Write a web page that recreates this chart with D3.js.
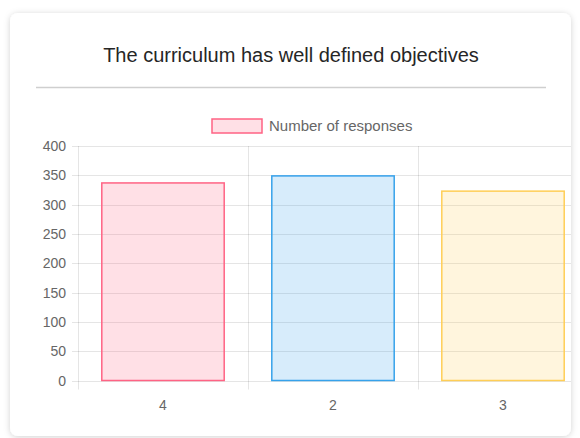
<!DOCTYPE html>
<html>
<head>
<meta charset="utf-8">
<title>Bar Chart</title>
<style>
  body { margin: 0; background: #fff; font-family: "Helvetica Neue", Helvetica, Arial, "Liberation Sans", sans-serif; }
</style>
</head>
<body>
<div id="chart-holder"></div>
<script src="https://d3js.org/d3.v7.min.js"></script>
<script>
var categories = ['4', '2', '3'];
var responses = [337, 349, 323];
var yTicks = [0, 50, 100, 150, 200, 250, 300, 350, 400];
var fills = ['rgba(255,99,132,0.2)', 'rgba(54,162,235,0.2)', 'rgba(255,206,86,0.2)'];
var strokes = ['rgba(255,99,132,1)', 'rgba(54,162,235,1)', 'rgba(255,206,86,1)'];
var titleText = 'The curriculum has well defined objectives';
var legendLabel = 'Number of responses';

var width = 580, height = 438;
var margin = {top: 146, right: -8, bottom: 57.5, left: 78};
var innerWidth = width - margin.left - margin.right;
var innerHeight = height - margin.top - margin.bottom;
var cardRight = 571;

var svg = d3.select('#chart-holder').append('svg')
    .attr('width', width)
    .attr('height', height);

// card with shadow
var defs = svg.append('defs');
var f = defs.append('filter').attr('id', 'shadow')
    .attr('x', '-10%').attr('y', '-10%').attr('width', '120%').attr('height', '120%');
f.append('feDropShadow').attr('dx', 0).attr('dy', 1).attr('stdDeviation', 3)
    .attr('flood-color', '#000').attr('flood-opacity', 0.18);

svg.append('rect')
    .attr('x', 10).attr('y', 13).attr('width', cardRight - 10).attr('height', 423).attr('rx', 8)
    .attr('fill', '#fff').attr('filter', 'url(#shadow)');

// title
svg.append('text')
    .attr('x', 291).attr('y', 62)
    .attr('text-anchor', 'middle')
    .attr('fill', '#262626')
    .style('font-size', '20px')
    .text(titleText);

svg.append('line')
    .attr('x1', 36).attr('x2', 546).attr('y1', 87.5).attr('y2', 87.5)
    .attr('stroke', '#cfcfcf').attr('stroke-width', 1.5);

var g = svg.append('g')
    .attr('transform', 'translate(' + margin.left + ',' + margin.top + ')');

var x = d3.scaleBand().domain(categories).range([0, innerWidth]);
var y = d3.scaleLinear().domain([0, 400]).range([innerHeight, 0]);

// the plot runs past the card's right edge, so grid lines stop there
var gridRight = cardRight - margin.left;

// horizontal grid
g.selectAll('.hgrid').data(yTicks).enter().append('line')
    .attr('class', 'hgrid')
    .attr('x1', -6).attr('x2', gridRight)
    .attr('y1', function(d) { return Math.round(y(d)) + 0.5; })
    .attr('y2', function(d) { return Math.round(y(d)) + 0.5; })
    .attr('stroke', 'rgba(0,0,0,0.1)');

// vertical grid lines at category boundaries
var bounds = categories.map(function(c) { return x(c); }).concat([innerWidth])
    .filter(function(d) { return d <= gridRight; });
g.selectAll('.vgrid').data(bounds).enter().append('line')
    .attr('class', 'vgrid')
    .attr('x1', function(d) { return Math.round(d) + 0.5; })
    .attr('x2', function(d) { return Math.round(d) + 0.5; })
    .attr('y1', 0).attr('y2', innerHeight + 9)
    .attr('stroke', 'rgba(0,0,0,0.1)');

// y labels
svg.selectAll('.ylabel').data(yTicks).enter().append('text')
    .attr('class', 'ylabel')
    .attr('x', margin.left - 12)
    .attr('y', function(d) { return margin.top + y(d) + 5; })
    .attr('text-anchor', 'end')
    .attr('fill', '#666')
    .style('font-size', '14px')
    .text(function(d) { return d; });

// x labels
g.selectAll('.xlabel').data(categories).enter().append('text')
    .attr('class', 'xlabel')
    .attr('x', function(d) { return x(d) + x.bandwidth() / 2; })
    .attr('y', innerHeight + 29)
    .attr('text-anchor', 'middle')
    .attr('fill', '#666')
    .style('font-size', '14px')
    .text(function(d) { return d; });

// bars
var barW = x.bandwidth() * 0.8 * 0.9;
g.selectAll('.bar').data(responses).enter().append('rect')
    .attr('class', 'bar')
    .attr('x', function(d, i) { return x(categories[i]) + (x.bandwidth() - barW) / 2; })
    .attr('y', function(d) { return y(d); })
    .attr('width', barW)
    .attr('height', function(d) { return innerHeight - y(d); })
    .attr('fill', function(d, i) { return fills[i]; })
    .attr('stroke', function(d, i) { return strokes[i]; })
    .attr('stroke-width', 1.5);

// legend
var legend = svg.append('g').attr('transform', 'translate(212,119)');
legend.append('rect')
    .attr('width', 50).attr('height', 14)
    .attr('fill', fills[0]).attr('stroke', strokes[0]).attr('stroke-width', 1.5);
legend.append('text')
    .attr('x', 57).attr('y', 12)
    .attr('fill', '#666')
    .style('font-size', '15px')
    .text(legendLabel);
</script>
</body>
</html>
